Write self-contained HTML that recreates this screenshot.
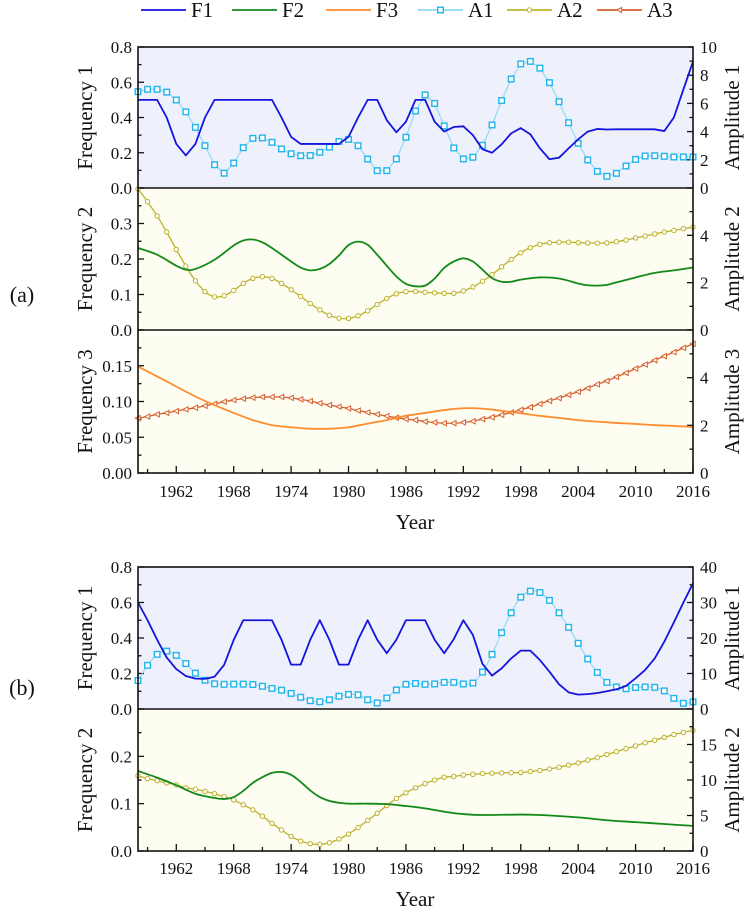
<!DOCTYPE html>
<html><head><meta charset="utf-8"><style>
html,body{margin:0;padding:0;background:#fff;}
svg{display:block;font-family:"Liberation Serif",serif;}
text{font-family:"Liberation Serif",serif;}
</style></head><body>
<svg id="chart" width="754" height="908" viewBox="0 0 754 908" xmlns="http://www.w3.org/2000/svg" font-family="Liberation Serif, serif"></svg>
<script>
// ---------- DATA ----------
const yearsAll = [];
for (let y = 1958; y <= 2016; y++) yearsAll.push(y);

// Panel (a)
const aF1 = [0.5,0.5,0.5,0.4,0.25,0.185,0.25,0.4,0.5,0.5,0.5,0.5,0.5,0.5,0.5,0.4,0.29,0.25,0.25,0.25,0.25,0.25,0.29,0.4,0.5,0.5,0.385,0.316,0.376,0.5,0.5,0.376,0.32,0.346,0.35,0.3,0.22,0.2,0.248,0.31,0.34,0.305,0.225,0.163,0.172,0.225,0.276,0.32,0.335,0.332,0.333,0.333,0.333,0.333,0.333,0.323,0.4,0.56,0.717];
const aA1 = [6.83,7.0,7.0,6.8,6.24,5.4,4.3,3.0,1.65,1.05,1.77,2.86,3.52,3.55,3.24,2.77,2.43,2.29,2.3,2.53,2.9,3.3,3.45,3.0,2.05,1.23,1.23,2.06,3.6,5.46,6.6,6.0,4.4,2.84,2.06,2.18,3.03,4.47,6.2,7.73,8.8,8.98,8.5,7.47,6.12,4.63,3.17,1.99,1.18,0.83,1.04,1.56,2.03,2.27,2.29,2.25,2.2,2.2,2.2];
const aF2Years = [1958,1960,1962,1963,1964,1966,1968,1969,1970,1971,1972,1974,1975,1976,1977,1978,1979,1980,1981,1982,1983,1984,1985,1986,1987,1988,1989,1990,1991,1992,1993,1994,1995,1996,1997,1998,2000,2002,2004,2005,2006,2007,2008,2010,2012,2014,2016];
const aF2 = [0.231,0.212,0.181,0.17,0.172,0.198,0.238,0.252,0.255,0.247,0.231,0.193,0.176,0.168,0.172,0.186,0.21,0.239,0.249,0.24,0.212,0.181,0.151,0.13,0.123,0.125,0.145,0.175,0.193,0.202,0.193,0.17,0.146,0.136,0.136,0.142,0.148,0.145,0.131,0.126,0.125,0.127,0.134,0.148,0.161,0.168,0.176];
const aA2 = [5.96,5.42,4.82,4.14,3.4,2.7,2.08,1.62,1.4,1.45,1.67,1.97,2.18,2.25,2.18,1.97,1.7,1.42,1.12,0.85,0.62,0.5,0.49,0.6,0.81,1.08,1.33,1.53,1.62,1.63,1.59,1.57,1.55,1.55,1.65,1.82,2.06,2.34,2.67,2.98,3.26,3.48,3.62,3.69,3.71,3.71,3.69,3.68,3.67,3.68,3.73,3.8,3.89,3.97,4.06,4.14,4.21,4.28,4.35];
const aF3Years = [1958,1960,1962,1964,1966,1968,1970,1972,1974,1976,1978,1980,1982,1984,1986,1988,1990,1992,1994,1996,1998,2000,2002,2004,2006,2008,2010,2012,2014,2016];
const aF3 = [0.149,0.135,0.121,0.107,0.095,0.084,0.074,0.067,0.064,0.062,0.062,0.064,0.069,0.074,0.080,0.084,0.088,0.0906,0.090,0.087,0.0836,0.080,0.077,0.074,0.0718,0.070,0.0686,0.067,0.0658,0.0644];
const aA3 = [2.3,2.37,2.46,2.52,2.6,2.67,2.74,2.82,2.9,2.99,3.06,3.12,3.16,3.19,3.19,3.19,3.15,3.09,3.02,2.93,2.85,2.78,2.71,2.62,2.54,2.46,2.39,2.32,2.26,2.22,2.16,2.12,2.09,2.09,2.12,2.17,2.26,2.34,2.44,2.54,2.65,2.76,2.9,3.03,3.14,3.28,3.41,3.56,3.72,3.86,4.03,4.2,4.38,4.55,4.73,4.9,5.07,5.25,5.42];

// Panel (b)
const bF1 = [0.6,0.5,0.39,0.29,0.225,0.186,0.171,0.17,0.182,0.248,0.389,0.5,0.5,0.5,0.5,0.39,0.25,0.25,0.39,0.5,0.39,0.25,0.25,0.39,0.5,0.39,0.314,0.39,0.5,0.5,0.5,0.39,0.314,0.394,0.5,0.417,0.254,0.188,0.229,0.285,0.329,0.329,0.276,0.21,0.139,0.094,0.081,0.084,0.09,0.1,0.111,0.13,0.173,0.22,0.285,0.379,0.488,0.6,0.708];
const bA1 = [8.0,12.3,15.4,16.3,15.1,12.8,10.1,8.1,7.1,6.95,7.0,7.0,6.9,6.4,5.8,5.3,4.4,3.3,2.35,2.05,2.6,3.6,4.1,4.0,2.6,1.7,3.1,5.35,6.95,7.2,6.95,7.05,7.5,7.5,7.05,7.3,10.4,15.4,21.5,27.1,31.5,33.2,32.8,30.6,27.1,23,18.5,14.1,10.3,7.5,6.2,5.7,6.05,6.2,6.1,5.1,3.0,1.6,2.0];
const bF2Years = [1958,1960,1962,1964,1966,1967,1968,1969,1970,1971,1972,1973,1974,1975,1976,1977,1978,1979,1980,1982,1984,1986,1988,1990,1992,1994,1998,2000,2004,2007,2010,2013,2016];
const bF2 = [0.169,0.155,0.139,0.121,0.112,0.11,0.114,0.127,0.144,0.156,0.165,0.167,0.161,0.146,0.128,0.114,0.106,0.102,0.1,0.1,0.099,0.095,0.09,0.083,0.078,0.076,0.077,0.076,0.071,0.065,0.061,0.057,0.053];
const bA2 = [10.6,10.2,9.9,9.6,9.3,8.9,8.7,8.4,8.07,7.65,7.2,6.5,5.8,4.9,3.9,2.96,2.07,1.4,1.03,0.94,1.17,1.69,2.39,3.3,4.3,5.3,6.4,7.4,8.2,8.9,9.5,10.0,10.4,10.5,10.7,10.8,10.9,10.95,11.0,11.02,11.05,11.2,11.35,11.55,11.8,12.1,12.4,12.8,13.15,13.6,14.0,14.4,14.8,15.25,15.6,16.0,16.4,16.7,17.0];

const xMajorTicks = [1962,1968,1974,1980,1986,1992,1998,2004,2010,2016];

// ---------- GEOMETRY ----------
const NS = "http://www.w3.org/2000/svg";
const svg = document.getElementById('chart');
const FONT = '"Liberation Serif", serif';
const X0 = 138, X1 = 693, YMIN = 1958, YMAX = 2016;
function xScale(yr){ return X0 + (yr - YMIN) / (YMAX - YMIN) * (X1 - X0); }
function mk(tag, attrs, parent){
  const e = document.createElementNS(NS, tag);
  for (const k in attrs) e.setAttribute(k, attrs[k]);
  (parent || svg).appendChild(e);
  return e;
}
function txt(str, x, y, opts, parent){
  const t = mk('text', Object.assign({x:x, y:y, 'font-size':17, fill:'#111', 'font-family':FONT}, opts||{}), parent);
  t.textContent = str;
  return t;
}
function yScaleFn(top, bottom, max){ return v => bottom - v / max * (bottom - top); }

function smoothPath(pts){
  let d = 'M' + pts[0][0].toFixed(2) + ',' + pts[0][1].toFixed(2);
  for (let i = 0; i < pts.length - 1; i++){
    const p0 = pts[i-1] || pts[i], p1 = pts[i], p2 = pts[i+1], p3 = pts[i+2] || p2;
    const c1x = p1[0] + (p2[0]-p0[0])/6, c1y = p1[1] + (p2[1]-p0[1])/6;
    const c2x = p2[0] - (p3[0]-p1[0])/6, c2y = p2[1] - (p3[1]-p1[1])/6;
    d += ' C' + c1x.toFixed(2)+','+c1y.toFixed(2)+' '+c2x.toFixed(2)+','+c2y.toFixed(2)+' '+p2[0].toFixed(2)+','+p2[1].toFixed(2);
  }
  return d;
}
function linePath(pts){ return pts.map((p,i)=>(i?'L':'M')+p[0].toFixed(2)+','+p[1].toFixed(2)).join(' '); }

function marker(type, x, y, color, g){
  let m;
  if (type === 'square'){
    m = mk('rect', {x:x-2.8, y:y-2.8, width:5.6, height:5.6, fill:'#fff', stroke:color, 'stroke-width':1.4}, g);
  } else if (type === 'circle'){
    m = mk('circle', {cx:x, cy:y, r:2.2, fill:'#fff', stroke:color, 'stroke-width':1}, g);
  } else {
    m = mk('path', {d:'M'+(x-2.8)+','+y+' L'+(x+2.2)+','+(y-2.6)+' L'+(x+2.2)+','+(y+2.6)+' Z', fill:'#fff', stroke:color, 'stroke-width':1}, g);
  }
  
  
}

function drawSeries(name, years, vals, yfn, color, width, kind, markerType, lineColor){
  const g = mk('g', {});
  
  
  const pts = years.map((yr,i)=>[xScale(yr), yfn(vals[i])]);
  const p = mk('path', {d: kind==='smooth' ? smoothPath(pts) : linePath(pts), fill:'none', stroke: lineColor||color, 'stroke-width':width, 'stroke-linejoin':'round'}, g);
  
  
  if (markerType) pts.forEach(pt => marker(markerType, pt[0], pt[1], color, g));
}

function panel(cfg){
  const g = mk('g', {});
  
  
  const bg = mk('rect', {x:X0, y:cfg.top, width:X1-X0, height:cfg.bottom-cfg.top, fill:cfg.bg}, g);
  
  
  const yl = yScaleFn(cfg.top, cfg.bottom, cfg.lmax);
  const yr = yScaleFn(cfg.top, cfg.bottom, cfg.rmax);
  for (let v = 0; v <= cfg.lmax + 1e-9; v += cfg.lminor){
    const yy = yl(v);
    const isMaj = Math.abs(v/cfg.lmajor - Math.round(v/cfg.lmajor)) < 1e-6;
    mk('line', {x1:X0, x2:X0 + (isMaj?6:3.5), y1:yy, y2:yy, stroke:'#111', 'stroke-width':1.3}, g);
  }
  cfg.llabels.forEach(v => {
    const t = txt(v.toFixed(cfg.ldec), X0-6, yl(v)+6, {'text-anchor':'end'}, g);
    
    
  });
  for (let v = 0; v <= cfg.rmax + 1e-9; v += cfg.rminor){
    const yy = yr(v);
    const isMaj = Math.abs(v/cfg.rmajor - Math.round(v/cfg.rmajor)) < 1e-6;
    mk('line', {x1:X1, x2:X1 - (isMaj?6:3.5), y1:yy, y2:yy, stroke:'#111', 'stroke-width':1.3}, g);
  }
  cfg.rlabels.forEach(v => {
    const t = txt(String(v), X1+7, yr(v)+6, {'text-anchor':'start'}, g);
    
    
  });
  const mid = (cfg.top + cfg.bottom)/2;
  const lt = txt(cfg.ltitle, 0, 0, {'font-size':21, 'text-anchor':'middle', transform:'translate(92,'+mid+') rotate(-90)'}, g);
  
  
  const rt = txt(cfg.rtitle, 0, 0, {'font-size':21, 'text-anchor':'middle', transform:'translate(739,'+mid+') rotate(-90)'}, g);
  
  
  return {yl: yl, yr: yr, g: g};
}

function frame(top, bottom, dividers){
  const f = mk('rect', {x:X0, y:top, width:X1-X0, height:bottom-top, fill:'none', stroke:'#111', 'stroke-width':1.6});
  
  
  dividers.forEach(y => mk('line', {x1:X0, x2:X1, y1:y, y2:y, stroke:'#111', 'stroke-width':1.6}));
}

function xAxis(bottom, labelY, titleY){
  const g = mk('g', {});
  
  
  for (let yr = 1959; yr <= 2016; yr += 3){
    const isMaj = xMajorTicks.indexOf(yr) >= 0;
    mk('line', {x1:xScale(yr), x2:xScale(yr), y1:bottom, y2:bottom-(isMaj?7:4), stroke:'#111', 'stroke-width':1.3}, g);
  }
  xMajorTicks.forEach(yr => {
    const t = txt(String(yr), xScale(yr), labelY, {'text-anchor':'middle'}, g);
    
    
  });
  const t = txt('Year', 415, titleY, {'text-anchor':'middle', 'font-size':21}, g);
  
  
}

const BLUE_BG = '#eef1fc', YEL_BG = '#fdfdf1';
const C_F1 = '#1414dc', C_F2 = '#13891a', C_F3 = '#ff8c2e', C_A1 = '#22b4ec', C_A1L = '#8fdaf6', C_A2 = '#bdb22a', C_A3 = '#d8612e';

// ---------- PANEL (a) ----------
const a1 = panel({name:'panel-a-frequency-1', top:47, bottom:188, bg:BLUE_BG, lmax:0.8, lmajor:0.2, lminor:0.1, llabels:[0,0.2,0.4,0.6,0.8], ldec:1, rmax:10, rmajor:2, rminor:1, rlabels:[0,2,4,6,8,10], ltitle:'Frequency 1', rtitle:'Amplitude 1'});
const a2 = panel({name:'panel-a-frequency-2', top:188, bottom:330, bg:YEL_BG, lmax:0.4, lmajor:0.1, lminor:0.05, llabels:[0,0.1,0.2,0.3], ldec:1, rmax:6, rmajor:2, rminor:1, rlabels:[0,2,4], ltitle:'Frequency 2', rtitle:'Amplitude 2'});
const a3 = panel({name:'panel-a-frequency-3', top:330, bottom:473, bg:YEL_BG, lmax:0.2, lmajor:0.05, lminor:0.025, llabels:[0,0.05,0.10,0.15], ldec:2, rmax:6, rmajor:2, rminor:1, rlabels:[0,2,4], ltitle:'Frequency 3', rtitle:'Amplitude 3'});

drawSeries('series-a-A1', yearsAll, aA1, a1.yr, C_A1, 1.2, 'line', 'square', C_A1L);
drawSeries('series-a-F1', yearsAll, aF1, a1.yl, C_F1, 1.8, 'line', null);
drawSeries('series-a-A2', yearsAll, aA2, a2.yr, C_A2, 1.3, 'smooth', 'circle');
drawSeries('series-a-F2', aF2Years, aF2, a2.yl, C_F2, 1.8, 'smooth', null);
drawSeries('series-a-A3', yearsAll, aA3, a3.yr, C_A3, 1.3, 'smooth', 'triangle');
drawSeries('series-a-F3', aF3Years, aF3, a3.yl, C_F3, 1.8, 'smooth', null);
frame(47, 473, [188, 330]);
xAxis(473, 497, 529);

// ---------- PANEL (b) ----------
const b1 = panel({name:'panel-b-frequency-1', top:567, bottom:709, bg:BLUE_BG, lmax:0.8, lmajor:0.2, lminor:0.1, llabels:[0,0.2,0.4,0.6,0.8], ldec:1, rmax:40, rmajor:10, rminor:5, rlabels:[0,10,20,30,40], ltitle:'Frequency 1', rtitle:'Amplitude 1'});
const b2 = panel({name:'panel-b-frequency-2', top:709, bottom:851, bg:YEL_BG, lmax:0.3, lmajor:0.1, lminor:0.05, llabels:[0,0.1,0.2], ldec:1, rmax:20, rmajor:5, rminor:2.5, rlabels:[0,5,10,15], ltitle:'Frequency 2', rtitle:'Amplitude 2'});
drawSeries('series-b-A1', yearsAll, bA1, b1.yr, C_A1, 1.2, 'smooth', 'square', C_A1L);
drawSeries('series-b-F1', yearsAll, bF1, b1.yl, C_F1, 1.8, 'line', null);
drawSeries('series-b-A2', yearsAll, bA2, b2.yr, C_A2, 1.3, 'smooth', 'circle');
drawSeries('series-b-F2', bF2Years, bF2, b2.yl, C_F2, 1.8, 'smooth', null);
frame(567, 851, [709]);
xAxis(851, 874, 906);

const la = txt('(a)', 22, 302, {'font-size':22, 'text-anchor':'middle'});


const lb = txt('(b)', 22, 695, {'font-size':22, 'text-anchor':'middle'});



// ---------- LEGEND ----------
const legendNames = ['F1','F2','F3','A1','A2','A3'];
const legendColors = [C_F1, C_F2, C_F3, C_A1L, C_A2, C_A3];
const legendMarkers = [null, null, null, 'square', 'circle', 'triangle'];
const legendMarkerColors = [null, null, null, C_A1, C_A2, C_A3];
const legendX = [141, 232, 326, 418, 507, 597];
const lg = mk('g', {});


legendNames.forEach((n, i) => {
  const eg = mk('g', {}, lg);
  
  
  const x = legendX[i];
  mk('line', {x1:x, x2:x+45, y1:10, y2:10, stroke:legendColors[i], 'stroke-width':1.8}, eg);
  if (legendMarkers[i]) marker(legendMarkers[i], x+22.5, 10, legendMarkerColors[i], eg);
  txt(n, x+50, 17, {'font-size':21}, eg);
});
</script>
</body></html>
